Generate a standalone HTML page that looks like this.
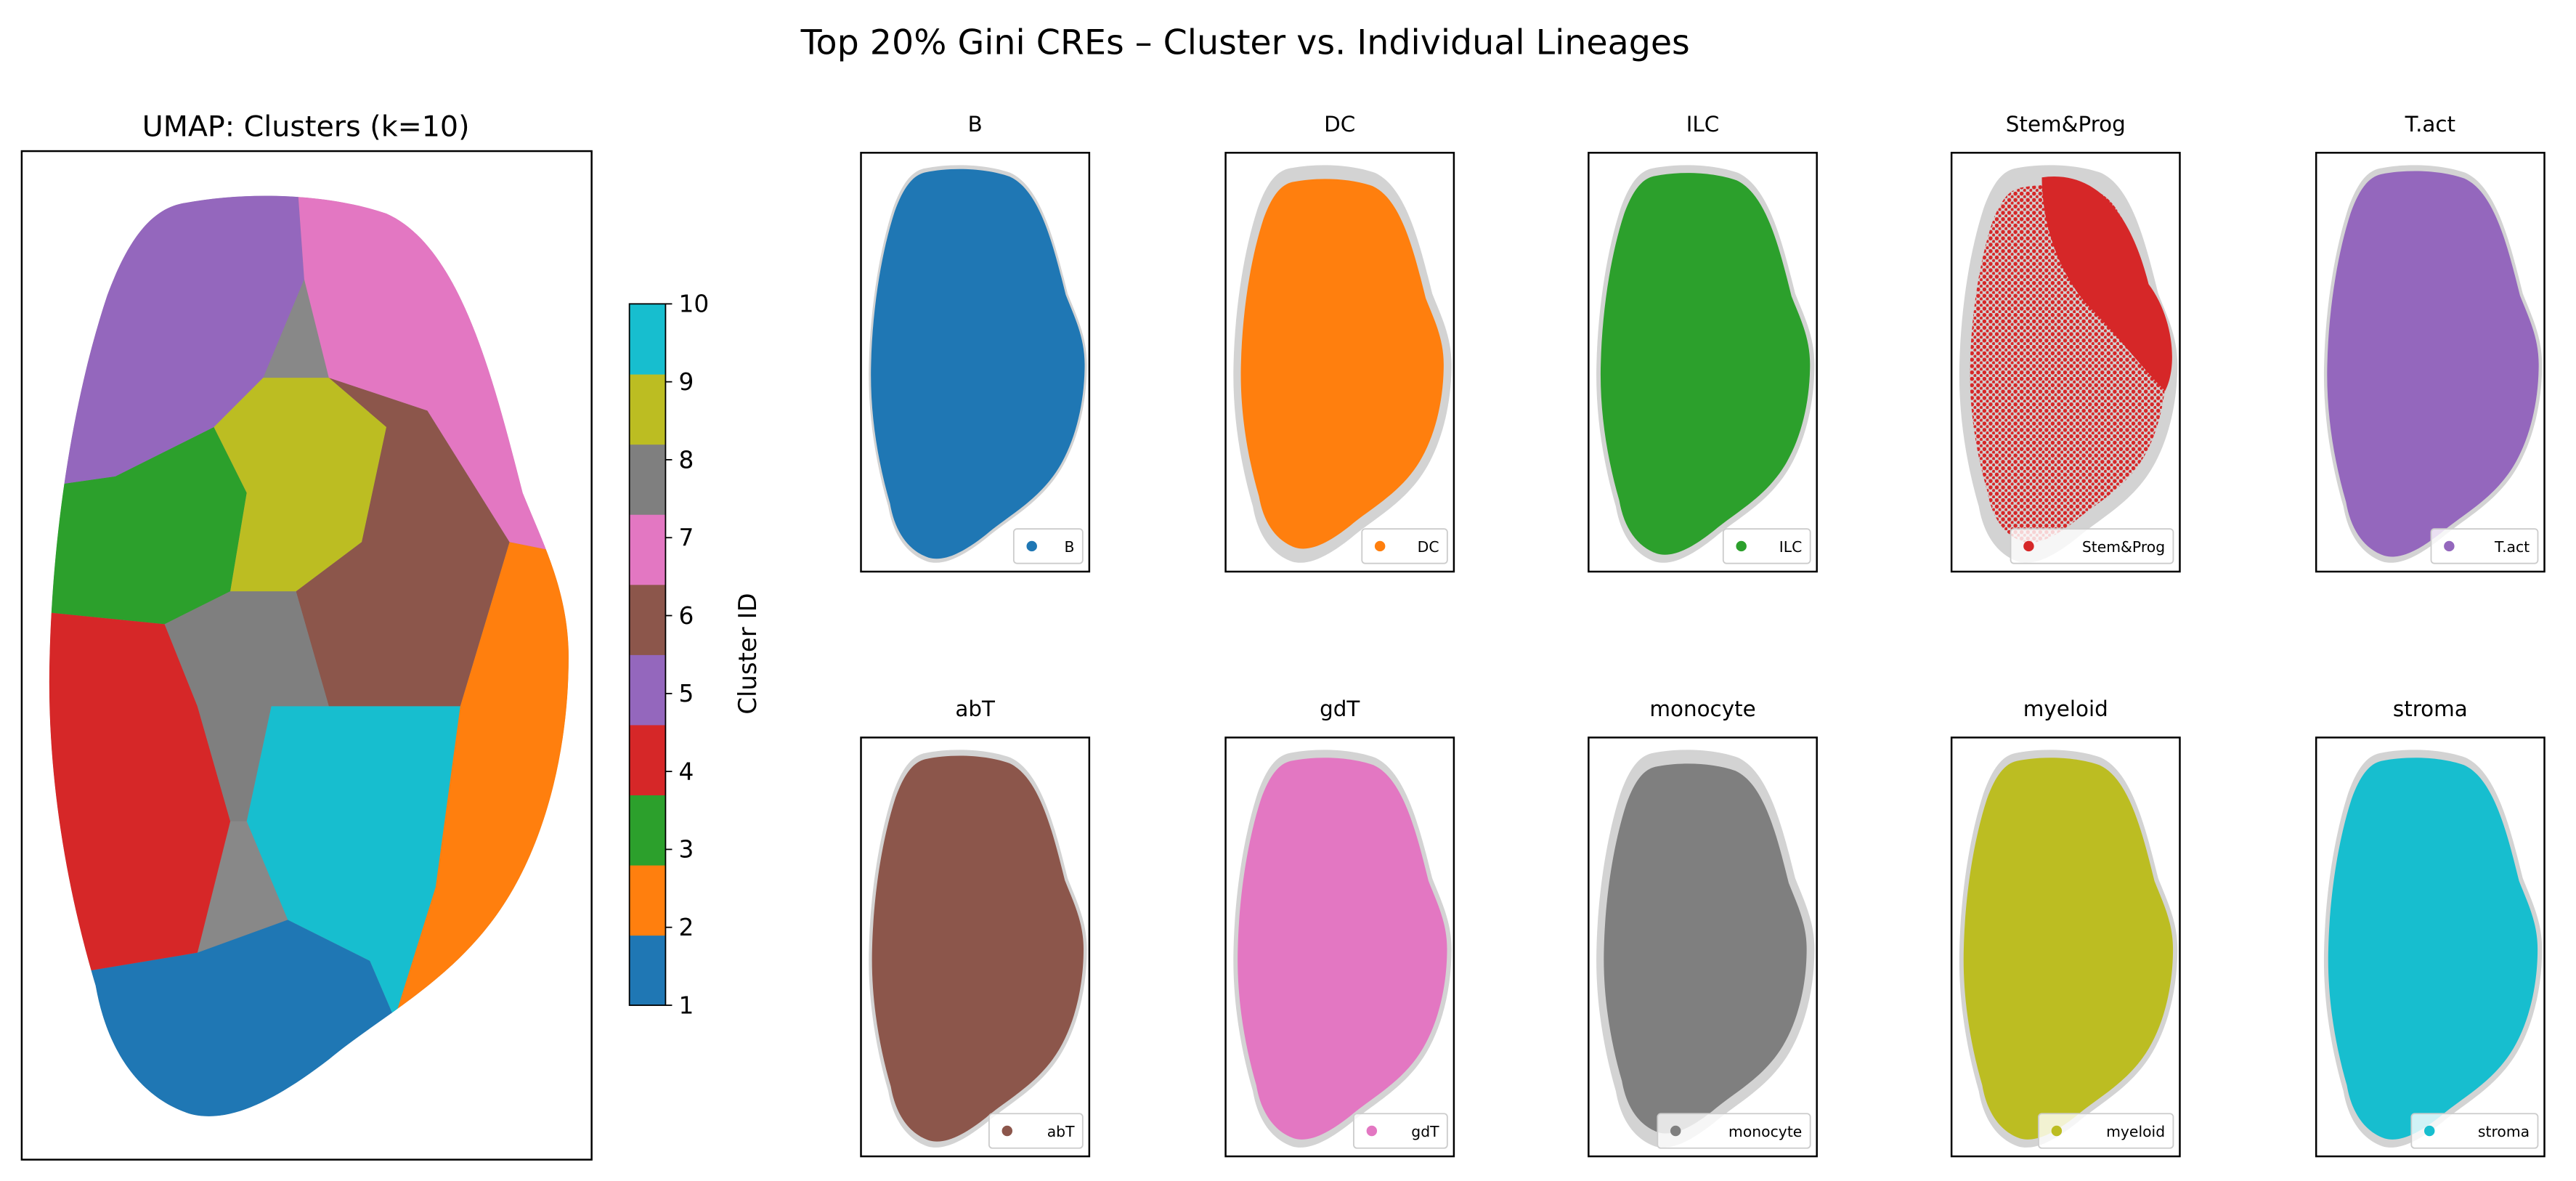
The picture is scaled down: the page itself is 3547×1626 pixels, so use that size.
<!DOCTYPE html>
<html><head><meta charset="utf-8"><style>
html,body{margin:0;padding:0;background:#fff}
svg{display:block;font-family:"DejaVu Sans","Liberation Sans",sans-serif}
</style></head><body>
<svg id="fig" width="3547" height="1626" viewBox="0 0 1568 719" xmlns="http://www.w3.org/2000/svg">
<defs>
<path id="blob" d="M 110,124 C 150,116 200,118 235,130 C 280,150 300,230 318,300 C 330,330 346,360 346,400 C 346,460 330,520 300,560 C 270,600 230,620 200,645 C 170,668 140,685 115,678 C 85,668 65,640 58,600 C 40,540 28,470 30,400 C 32,320 45,240 65,180 C 78,145 92,128 110,124 Z"/>
<clipPath id="mainclip"><use href="#blob"/></clipPath>
<pattern id="dots" width="10" height="10" patternUnits="userSpaceOnUse"><circle cx="3" cy="3" r="3.2" fill="#d62728"/><circle cx="8" cy="8" r="2.6" fill="#d62728"/></pattern>
</defs>
<rect width="1568" height="719" fill="#fff"/>
<text x="758" y="33" font-size="21" text-anchor="middle">Top 20% Gini CREs – Cluster vs. Individual Lineages</text>
<g id="main">
<text x="186" y="83" font-size="17.5" text-anchor="middle">UMAP: Clusters (k=10)</text>
<g clip-path="url(#mainclip)" id="regions"></g>
<rect x="13" y="92" width="347" height="614" fill="none" stroke="#000" stroke-width="1.1"/>
</g>
<g id="cbar"></g>
<text transform="translate(460,398) rotate(-90)" font-size="15" text-anchor="middle">Cluster ID</text>
<g id="panels"></g>
</svg>
<script>
const clusterIds=[1,2,3,4,5,6,7,8,9,10];
const colors=['#1f77b4','#ff7f0e','#2ca02c','#d62728','#9467bd','#8c564b','#e377c2','#7f7f7f','#bcbd22','#17becf'];
const lineages=['B','DC','ILC','Stem&Prog','T.act','abT','gdT','monocyte','myeloid','stroma'];
const coverage=[0.98,0.93,0.96,0.5,0.97,0.97,0.96,0.93,0.96,0.96];
const NS='http://www.w3.org/2000/svg';
function mk(t,a,p){const e=document.createElementNS(NS,t);for(const k in a)e.setAttribute(k,a[k]);p.appendChild(e);return e;}
const regionPolys={
 5:'0,100 180,100 185,170 160,230 130,260 70,290 0,300',
 7:'180,100 360,100 360,340 310,330 260,250 200,230 185,170',
 3:'0,300 70,290 130,260 150,300 140,360 100,380 0,370',
 4:'0,370 100,380 120,430 140,500 120,580 0,600',
 1:'0,600 120,580 175,560 225,585 240,620 240,720 0,720',
 2:'310,330 360,340 360,720 240,720 240,620 265,540 280,430',
 10:'165,430 280,430 265,540 240,620 225,585 175,560 150,500',
 8:'100,380 140,360 180,360 200,430 165,430 150,500 140,500 120,430',
 9:'130,260 160,230 200,230 235,260 220,330 180,360 140,360 150,300',
 6:'200,230 260,250 310,330 280,430 200,430 180,360 220,330 235,260'
};
const reg=document.getElementById('regions');
mk('use',{href:'#blob',fill:'#888'},reg);
for(const k in regionPolys){const p=mk('polygon',{points:regionPolys[k],fill:colors[k-1]},reg);

}
const cb=document.getElementById('cbar');
const cbTop=185,cbBot=612,cbX=383,cbW=22;
const segH=(cbBot-cbTop)/clusterIds.length;
clusterIds.forEach((c,i)=>{const r=mk('rect',{x:cbX,y:cbBot-(i+1)*segH,width:cbW,height:segH+0.3,fill:colors[i]},cb);


const ty=cbBot-(c-1)/(clusterIds.length-1)*(cbBot-cbTop);
mk('line',{x1:cbX+cbW,x2:cbX+cbW+4,y1:ty,y2:ty,stroke:'#000','stroke-width':0.8},cb);
const t=mk('text',{x:cbX+cbW+8,y:ty+5,'font-size':14.5},cb);t.textContent=c;

});
mk('rect',{x:cbX,y:cbTop,width:cbW,height:cbBot-cbTop,fill:'none',stroke:'#000','stroke-width':0.8},cb);
const colX=[524,746,967,1188,1410],rowY=[93,449],pw=139,ph=255;
const legW=[42,52,53,99,65,57,57,93,82,77];
const pg=document.getElementById('panels');
lineages.forEach((name,i)=>{
 const px=colX[i%5],py=rowY[Math.floor(i/5)];
 const g=mk('g',{},pg);
 
 
 const t=mk('text',{x:px+pw/2,y:py-13,'font-size':13,'text-anchor':'middle'},g);t.textContent=name;
 
 
 const sx=0.42,sy=0.432,tx=px+4-28*sx,ty=py+7-118*sy;
 mk('use',{href:'#blob',fill:'#d3d3d3',transform:`translate(${tx},${ty}) scale(${sx},${sy})`},g);
 const cx=px+pw/2,cy=py+ph/2,s=coverage[i];
 const isStem=name==='Stem&Prog';
 const fill=isStem?'url(#dots)':colors[i];
 const cs=isStem?0.9:s;
 const u=mk('use',{href:'#blob',fill:fill,transform:`translate(${cx},${cy}) scale(${cs}) translate(${-cx},${-cy}) translate(${tx},${ty}) scale(${sx},${sy})`},g);
 
 
 if(isStem){
  const d=mk('path',{d:`M ${px+55},${py+15} C ${px+90},${py+10} ${px+110},${py+40} ${px+120},${py+80} C ${px+135},${py+100} ${px+138},${py+130} ${px+130},${py+145} C ${px+115},${py+130} ${px+100},${py+110} ${px+85},${py+95} C ${px+70},${py+80} ${px+55},${py+50} ${px+55},${py+15} Z`,fill:colors[i]},g);
  
  
 }
 mk('rect',{x:px,y:py,width:pw,height:ph,fill:'none',stroke:'#000','stroke-width':1.1},g);
 const lw=legW[i],lx=px+pw-4-lw,ly=py+ph-26;
 const lg=mk('g',{},g);
 
 
 mk('rect',{x:lx,y:ly,width:lw,height:21,rx:2,fill:'#fff','fill-opacity':0.8,stroke:'#ccc','stroke-width':0.8},lg);
 mk('circle',{cx:lx+11,cy:ly+10.5,r:3.2,fill:colors[i]},lg);
 const lt=mk('text',{x:lx+lw-5,y:ly+14,'font-size':9,'text-anchor':'end'},lg);lt.textContent=name;
});
</script>
</body></html>
